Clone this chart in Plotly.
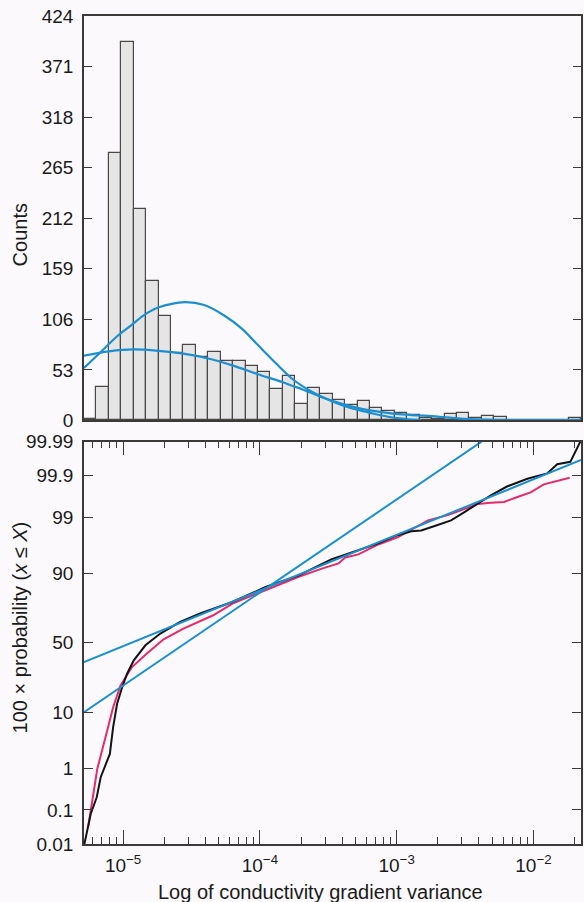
import numpy as np
import plotly.graph_objects as go
from statistics import NormalDist

# ---------------- data ----------------
# Histogram of log10(conductivity gradient variance)
BIN_START = -5.286          # log10 of the first bin's left edge
BIN_WIDTH = 0.0909          # bin width in decades
COUNTS = [2, 35, 280, 397, 222, 146, 110, 71, 79, 67,
          72, 62, 62, 57, 51, 33, 47, 17, 34, 28,
          21, 16, 20, 13, 10, 8, 6, 3, 2, 7,
          8, 3, 5, 4, 0, 0, 0, 0, 0, 3]
COUNT_TICKS = [0, 53, 106, 159, 212, 265, 318, 371, 424]

# Fitted density curves (x: log10 variance, y: counts)
FIT1_X = [-5.286, -5.169, -5.046, -4.930, -4.842, -4.733, -4.552, -4.407, -4.261,
          -4.130, -4.007, -3.883, -3.767, -3.643, -3.520, -3.404, -3.280, -3.157,
          -3.041, -2.917, -2.815]
FIT1_Y = [55, 71, 88, 101, 111, 119, 124, 121, 110, 96, 78, 60, 44, 32, 23, 16.3,
          11, 6.8, 3.4, 1.3, 0]
FIT2_X = [-5.286, -5.104, -4.922, -4.741, -4.559, -4.377, -4.196, -4.014, -3.832,
          -3.767, -3.687, -3.520, -3.280, -3.041, -2.699, -2.481, -2.263, -1.652]
FIT2_Y = [68, 72.5, 74.5, 73, 70, 65, 57.5, 48.5, 40, 36.5, 32.5, 23, 13, 7.5, 4, 1.5,
          0.5, 0.3]

# Cumulative probability (%) curves
EMP_X = [-5.283, -5.237, -5.193, -5.164, -5.097, -5.073, -5.044, -5.007, -4.971,
         -4.922, -4.837, -4.728, -4.583, -4.437, -4.201, -3.958, -3.716, -3.474,
         -3.134, -3.013, -2.892, -2.820, -2.711, -2.602, -2.504, -2.408, -2.311,
         -2.190, -2.044, -1.899, -1.826, -1.730, -1.657]
EMP_P = [0.01, 0.078, 0.215, 0.65, 2.0, 5.95, 13.0, 20.6, 28.4, 37.3, 48.2, 56.8,
         65.0, 70.6, 77.5, 84.9, 89.4, 93.9, 96.7, 97.57, 98.05, 98.11, 98.5, 98.82,
         99.22, 99.49, 99.68, 99.81, 99.879, 99.913, 99.952, 99.959, 99.99]
SIM_X = [-5.254, -5.189, -5.116, -5.073, -5.019, -4.935, -4.826, -4.704, -4.559,
         -4.341, -4.201, -3.958, -3.716, -3.547, -3.425, -3.376, -3.280, -3.134,
         -2.989, -2.771, -2.626, -2.481, -2.408, -2.311, -2.214, -2.117, -2.020,
         -1.924, -1.826, -1.735]
SIM_P = [0.036, 0.99, 5.26, 11.7, 21.6, 32.7, 42.1, 52.6, 60.4, 69.5, 76.6, 83.4,
         88.9, 91.5, 92.9, 94.27, 94.9, 96.55, 97.46, 98.82, 99.09, 99.37, 99.49,
         99.52, 99.54, 99.65, 99.73, 99.83, 99.861, 99.886]
LINE1_X = [-5.286, -2.379]
LINE1_P = [10.0, 99.99]
LINE2_X = [-5.286, -1.652]
LINE2_P = [36.1, 99.964]

PROB_TICKS = [0.01, 0.1, 1, 10, 50, 90, 99, 99.9, 99.99]
PROB_LABELS = ["0.01", "0.1", "1", "10", "50", "90", "99", "99.9", "99.99"]
DECADES = [-5, -4, -3, -2]
DECADE_LABELS = ["10<sup>\u22125</sup>", "10<sup>\u22124</sup>",
                 "10<sup>\u22123</sup>", "10<sup>\u22122</sup>"]

# ---------------- helpers ----------------
nd = NormalDist()
def probit(ps):
    return [nd.inv_cdf(p / 100.0) for p in ps]

XR = [-5.286, -1.652]
ZMAX = nd.inv_cdf(0.9999)

BLUE = "#1c8fd0"
PINK = "#e52a6b"
BLACK = "#141414"
FRAME = "#3c3a38"
BG = "#fbf9fb"
FONT = "Liberation Sans, Arial, Helvetica, sans-serif"
TXT = "#1a1a1a"

centers = [BIN_START + BIN_WIDTH * (i + 0.5) for i in range(len(COUNTS))]
minor_vals = [d + np.log10(k) for d in range(-6, -1) for k in range(2, 10)]
minor_vals = [v for v in minor_vals if XR[0] < v < XR[1]]

fig = go.Figure()

fig.add_trace(go.Bar(x=centers, y=COUNTS, width=BIN_WIDTH,
                     marker=dict(color="#e6e5e6", line=dict(color="#4a4846", width=1.2)),
                     xaxis="x", yaxis="y", showlegend=False))
fig.add_trace(go.Scatter(x=FIT2_X, y=FIT2_Y, mode="lines",
                         line=dict(color=BLUE, width=2.2, shape="spline", smoothing=0.8),
                         xaxis="x", yaxis="y", showlegend=False))
fig.add_trace(go.Scatter(x=FIT1_X, y=FIT1_Y, mode="lines",
                         line=dict(color=BLUE, width=2.2, shape="spline", smoothing=0.8),
                         xaxis="x", yaxis="y", showlegend=False))

fig.add_trace(go.Scatter(x=SIM_X, y=probit(SIM_P), mode="lines", line=dict(color=PINK, width=2),
                         xaxis="x2", yaxis="y2", showlegend=False))
fig.add_trace(go.Scatter(x=EMP_X, y=probit(EMP_P), mode="lines", line=dict(color=BLACK, width=2),
                         xaxis="x2", yaxis="y2", showlegend=False))
fig.add_trace(go.Scatter(x=LINE1_X, y=probit(LINE1_P), mode="lines", line=dict(color=BLUE, width=2),
                         xaxis="x2", yaxis="y2", showlegend=False))
fig.add_trace(go.Scatter(x=LINE2_X, y=probit(LINE2_P), mode="lines", line=dict(color=BLUE, width=2),
                         xaxis="x2", yaxis="y2", showlegend=False))

axis_common = dict(showline=True, linecolor=FRAME, linewidth=1.5, showgrid=False, zeroline=False,
                   tickcolor=FRAME, tickwidth=1.3, tickfont=dict(size=19, color=TXT, family=FONT))

fig.update_layout(
    width=584, height=902,
    margin=dict(l=84, r=1, t=16, b=58),
    paper_bgcolor=BG, plot_bgcolor=BG,
    font=dict(family=FONT, color=TXT),
    bargap=0,
    xaxis=dict(domain=[0, 1], range=XR, anchor="y", showticklabels=False, ticks="",
               mirror=True, **axis_common),
    yaxis=dict(domain=[0.5115, 1], range=[0, 424], anchor="x", tickvals=COUNT_TICKS,
               ticks="inside", ticklen=8, mirror="ticks", ticklabelstandoff=5, **axis_common),
    xaxis2=dict(domain=[0, 1], range=XR, anchor="y2", tickvals=DECADES, ticktext=DECADE_LABELS,
                ticks="inside", ticklen=14, mirror="allticks", ticklabelstandoff=3,
                minor=dict(tickvals=minor_vals, ticks="inside", ticklen=7, tickcolor=FRAME, tickwidth=1.1),
                **axis_common),
    yaxis2=dict(domain=[0, 0.4859], range=[-ZMAX, ZMAX], anchor="x2", tickvals=probit(PROB_TICKS),
                ticktext=PROB_LABELS, ticks="inside", ticklen=9, mirror="ticks", ticklabelstandoff=5,
                **axis_common),
    annotations=[
        dict(text="Counts", xref="paper", yref="paper", x=-0.128, y=(844 - 235) / 828,
             textangle=-90, showarrow=False, font=dict(size=20, family=FONT, color=TXT),
             xanchor="center", yanchor="middle"),
        dict(text="100 \u00d7 probability (<i>x</i> \u2264 <i>X</i>)", xref="paper", yref="paper",
             x=-0.128, y=(844 - 627) / 828, textangle=-90, showarrow=False,
             font=dict(size=20, family=FONT, color=TXT), xanchor="center", yanchor="middle"),
        dict(text="Log of conductivity gradient variance", xref="paper", yref="paper",
             x=(321 - 84) / 499, y=(844 - 892) / 828, showarrow=False,
             font=dict(size=20, family=FONT, color=TXT), xanchor="center", yanchor="middle"),
    ],
)

fig.write_html("out.html")
